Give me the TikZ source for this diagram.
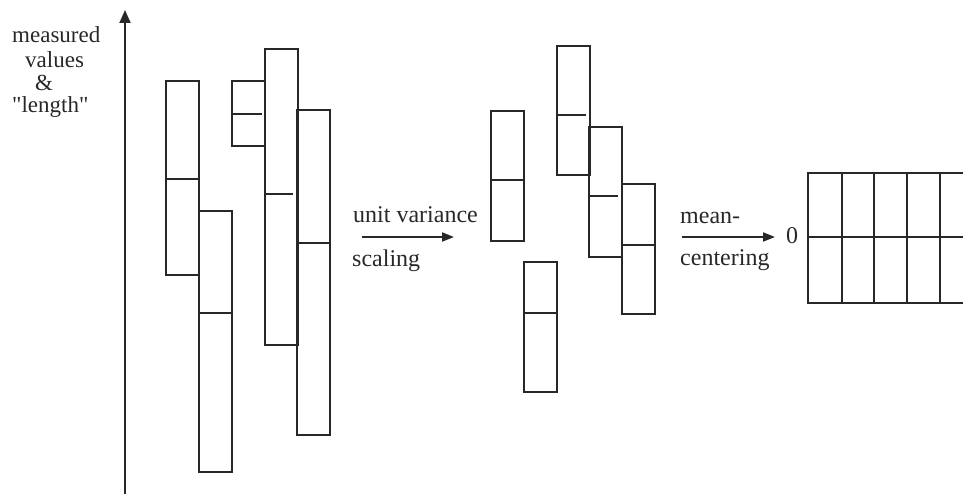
\documentclass[tikz,border=0pt]{standalone}
\usepackage{fontspec}
\setmainfont{Liberation Serif}[Ligatures=TeXOff]
\usetikzlibrary{arrows.meta}
\definecolor{ink}{RGB}{40,40,40}
\tikzset{
  barbox/.style={draw=ink, line width=1.8pt, minimum width=33pt, inner sep=0pt,
                 outer sep=0pt, anchor=north west},
  barline/.style={draw=ink, line width=1.8pt},
  flow/.style={draw=ink, line width=1.8pt, -{Triangle[length=12pt,width=9pt]}},
  axisline/.style={draw=ink, line width=1.8pt, -{Triangle[length=13pt,width=11pt]}},
  lbl/.style={text=ink, font=\fontsize{24}{24}\selectfont, inner sep=0pt, anchor=base west},
  ylbl/.style={text=ink, font=\fontsize{23}{23}\selectfont, inner sep=0pt, anchor=base west},
}
% one variable as a bar: name, left x, top y, bottom y, y of the mean line, right end of the mean line
\newcommand\databar[6]{%
  \node[barbox, minimum height={#4-#3}] (#1) at (#2,#3) {};
  \draw[barline] (#2,#5) -- (#6,#5);}

\begin{document}
\begin{tikzpicture}[x=1pt,y=-1pt]
\useasboundingbox (0,0) rectangle (963,495);

% value axis
\coordinate (axbot) at (125,494);
\coordinate (axtop) at (125,10);
\draw[axisline] (axbot) -- (axtop);
\node[ylbl] (yl1) at (12,43) {measured};
\node[ylbl] (yl2) at (25,67) {values};
\node[ylbl] (yl3) at (35,90) {\&};
\node[ylbl] (yl4) at (12,112) {"length"};

% raw variables
\databar{a}{166}{81}{275}{179}{199}
\databar{b}{199}{211}{472}{313}{232}
\databar{c}{232}{81}{146}{114}{262}
\databar{d}{265}{49}{345}{194}{293}
\databar{e}{297}{110}{435}{243}{330}

% scaling step
\coordinate (s1) at (362,237);
\coordinate (t1) at (454,237);
\draw[flow] (s1) -- (t1);
\node[lbl] (u1) at (353,222) {unit variance};
\node[lbl] (u2) at (352,266) {scaling};

% scaled variables
\databar{f}{491}{111}{241}{180}{524}
\databar{g}{524}{262}{392}{313}{557}
\databar{h}{557}{46}{175}{115}{586}
\databar{i}{589}{127}{257}{196}{618}
\databar{j}{622}{184}{314}{245}{655}

% centring step
\coordinate (s2) at (682,237);
\coordinate (t2) at (775,237);
\draw[flow] (s2) -- (t2);
\node[lbl] (m1) at (680,223) {mean-};
\node[lbl] (m2) at (680,265) {centering};
\node[lbl, anchor=center] (zero) at (792,236) {0};

% centred and scaled variables
\draw[barline] (963,173) -- (808,173) -- (808,303) -- (963,303);
\draw[barline] (808,237) -- (963,237);
\foreach \cx in {842,874,907,940}
  \draw[barline] (\cx,173) -- (\cx,303);
\end{tikzpicture}
\end{document}
